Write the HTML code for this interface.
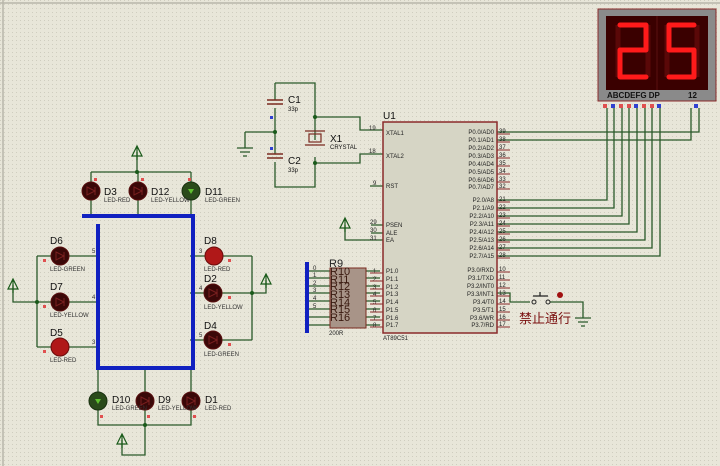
<!DOCTYPE html>
<html><head><meta charset="utf-8"><style>
html,body{margin:0;padding:0;width:720px;height:466px;overflow:hidden;background:#e6e4d6}
svg{display:block}
text{font-family:"Liberation Sans","Noto Sans CJK SC",sans-serif}
</style></head><body>
<svg width="720" height="466" viewBox="0 0 720 466" xmlns="http://www.w3.org/2000/svg">
<defs>
<pattern id="g" width="4" height="4" patternUnits="userSpaceOnUse"><rect width="4" height="4" fill="#e8e6d9"/><rect width="1" height="1" fill="#cfcdbf"/></pattern>
<g id="ledr"><circle r="9" fill="#3a0808" stroke="#5a1010"/><path d="M-4,-4 L4,0 L-4,4 Z M4,-4 V4" fill="none" stroke="#7a2020" stroke-width="1"/></g>
<g id="ledon"><circle r="9" fill="#b01818" stroke="#6a0c0c"/></g>
<g id="ledg"><circle r="9" fill="#2a4a1a" stroke="#1a3010"/><path d="M-3,-2 L3,-2 L0,3 Z" fill="#60c030"/></g>
<g id="gnd"><path d="M0,0 V-14 M-5,-4 L0,-14 L5,-4 Z" fill="none" stroke="#1a5a1a" stroke-width="1.2"/></g>
</defs>
<rect width="720" height="466" fill="url(#g)"/>
<path d="M3,0 V466 M0,3 H720" stroke="#b8b6aa" stroke-width="1.5"/>
<g stroke="#2a5a2a" stroke-width="1.3" fill="none">
<path d="M91,172 H191 M91,172 V182 M138,172 V182 M191,172 V182 M137,172 V152"/>
<path d="M91,200 V216 M138,200 V216 M191,200 V216"/>
<path d="M37,256 V347 M37,256 H51 M37,302 H51 M37,347 H51 M37,302 H13 V285"/>
<path d="M69,256 H98 M69,302 H98 M69,347 H98"/>
<path d="M252,256 V340 M223,256 H252 M222,293 H266 V280 M222,340 H252"/>
<path d="M190,256 H205 M190,293 H204 M190,340 H204"/>
<path d="M98,370 V392 M145,370 V392 M191,370 V392 M98,410 V425 H191 V410 M145,410 V455 H122 V440"/>
<path d="M275,83 H315 V140 M275,83 V100 M275,108 V154 M275,162 V187 H315 V157 M245,132 H275 M245,132 V148"/>
<path d="M315,117 H360 V130 H383 M315,163 H360 V154 H383 M370,186 H383"/>
<path d="M345,225 V240 H383 M371,225 H383 M371,233 H383"/>
<path d="M307,271 H380 M307,278 H380 M307,286 H380 M307,293 H380 M307,301 H380 M307,309 H380 M307,317 H380 M307,325 H380"/>
<path d="M497,132 H699 V108 M497,140 H691 V108"/>
<path d="M497,200 H607 V108 M497,208 H614 V108 M497,216 H622 V108 M497,224 H629 V108 M497,232 H637 V108 M497,240 H645 V108 M497,248 H652 V108 M497,256 H660 V108"/>
<path d="M497,293 H510 V302 H530 M550,302 H583 V318"/>
</g>
<g fill="#1a5a1a"><circle cx="137" cy="172" r="2"/><circle cx="37" cy="302" r="2"/><circle cx="252" cy="293" r="2"/><circle cx="145" cy="425" r="2"/><circle cx="275" cy="132" r="2"/><circle cx="315" cy="117" r="2"/><circle cx="315" cy="163" r="2"/></g>
<use href="#gnd" x="137" y="160"/><use href="#gnd" x="13" y="293"/><use href="#gnd" x="266" y="288"/><use href="#gnd" x="122" y="448"/><use href="#gnd" x="345" y="232"/>
<path d="M237,148 H253 M240,152 H250 M243,156 H247 M575,318 H591 M578,322 H588 M581,326 H585" stroke="#2a5a2a" stroke-width="1.2"/>
<path d="M82,216 H193 V370 M98,368 H193 M98,224 V370" stroke="#1020c0" stroke-width="4" fill="none"/>
<path d="M307,262 V333" stroke="#1020c0" stroke-width="4"/>
<use href="#ledr" x="91" y="191"/><use href="#ledr" x="138" y="191"/><use href="#ledg" x="191" y="191"/>
<use href="#ledr" x="60" y="256"/><use href="#ledr" x="60" y="302"/><use href="#ledon" x="60" y="347"/>
<use href="#ledon" x="214" y="256"/><use href="#ledr" x="213" y="293"/><use href="#ledr" x="213" y="340"/>
<use href="#ledg" x="98" y="401"/><use href="#ledr" x="145" y="401"/><use href="#ledr" x="191" y="401"/>
<g fill="#e05050">
<rect x="94" y="178" width="3" height="3"/><rect x="141" y="178" width="3" height="3"/><rect x="188" y="178" width="3" height="3"/>
<rect x="43" y="259" width="3" height="3"/><rect x="43" y="305" width="3" height="3"/><rect x="43" y="350" width="3" height="3"/>
<rect x="228" y="259" width="3" height="3"/><rect x="228" y="296" width="3" height="3"/><rect x="228" y="343" width="3" height="3"/>
<rect x="100" y="415" width="3" height="3"/><rect x="147" y="415" width="3" height="3"/><rect x="193" y="415" width="3" height="3"/>
</g>
<g font-size="10" fill="#111">
<text x="104" y="195">D3</text><text x="151" y="195">D12</text><text x="205" y="195">D11</text>
<text x="50" y="244">D6</text><text x="50" y="290">D7</text><text x="50" y="336">D5</text>
<text x="204" y="244">D8</text><text x="204" y="282">D2</text><text x="204" y="329">D4</text>
<text x="112" y="403">D10</text><text x="158" y="403">D9</text><text x="205" y="403">D1</text>
</g>
<g font-size="6" fill="#333">
<text x="104" y="202">LED-RED</text><text x="151" y="202">LED-YELLOW</text><text x="205" y="202">LED-GREEN</text>
<text x="50" y="271">LED-GREEN</text><text x="50" y="317">LED-YELLOW</text><text x="50" y="362">LED-RED</text>
<text x="204" y="271">LED-RED</text><text x="204" y="309">LED-YELLOW</text><text x="204" y="356">LED-GREEN</text>
<text x="112" y="410">LED-GREEN</text><text x="158" y="410">LED-YELLOW</text><text x="205" y="410">LED-RED</text>
<text x="92" y="253">5</text><text x="92" y="299">4</text><text x="92" y="344">3</text>
<text x="199" y="253">3</text><text x="199" y="290">4</text><text x="199" y="337">5</text>
</g>
<path d="M267,100 H283 M267,104 H283 M267,154 H283 M267,158 H283" stroke="#7a2a20" stroke-width="1.5"/>
<rect x="309" y="134" width="12" height="8" fill="none" stroke="#7a2a20" stroke-width="1.2"/>
<path d="M305,131 H325 M305,145 H325" stroke="#7a2a20" stroke-width="1.2"/>
<rect x="270" y="116" width="3" height="3" fill="#3040d0"/><rect x="270" y="147" width="3" height="3" fill="#3040d0"/>
<g fill="#111"><text x="288" y="103" font-size="10">C1</text><text x="288" y="164" font-size="10">C2</text><text x="330" y="142" font-size="10">X1</text>
<text x="288" y="111" font-size="6">33p</text><text x="288" y="172" font-size="6">33p</text><text x="330" y="149" font-size="6">CRYSTAL</text></g>
<rect x="330" y="268" width="36" height="60" fill="#a89488" stroke="#7a2a20"/>
<g font-size="11" fill="#3a1a10"><text x="329" y="267" fill="#222">R9</text>
<text x="330" y="275">R10</text><text x="330" y="283">R11</text><text x="330" y="290">R12</text><text x="330" y="298">R13</text><text x="330" y="306">R14</text><text x="330" y="313">R15</text><text x="330" y="321">R16</text></g>
<g font-size="6" fill="#222"><text x="313" y="270">0</text><text x="313" y="277">1</text><text x="313" y="285">2</text><text x="313" y="292">3</text><text x="313" y="300">4</text><text x="313" y="308">5</text><text x="329" y="335">200R</text></g>
<rect x="383" y="122" width="114" height="211" fill="#d6d5c5" stroke="#8a2a2a" stroke-width="1.5"/>
<text x="383" y="119" font-size="10" fill="#111">U1</text>
<text x="383" y="340" font-size="6" fill="#222">AT89C51</text>
<g font-size="6" fill="#222">
<text x="386" y="135">XTAL1</text><text x="386" y="158">XTAL2</text><text x="386" y="188">RST</text>
<text x="386" y="227">PSEN</text><text x="386" y="235">ALE</text><text x="386" y="242">EA</text>
<text x="386" y="273">P1.0</text><text x="386" y="281">P1.1</text><text x="386" y="289">P1.2</text><text x="386" y="296">P1.3</text><text x="386" y="304">P1.4</text><text x="386" y="312">P1.5</text><text x="386" y="320">P1.6</text><text x="386" y="327">P1.7</text>
<g text-anchor="end">
<text x="494" y="134">P0.0/AD0</text><text x="494" y="142">P0.1/AD1</text><text x="494" y="150">P0.2/AD2</text><text x="494" y="158">P0.3/AD3</text><text x="494" y="166">P0.4/AD4</text><text x="494" y="174">P0.5/AD5</text><text x="494" y="182">P0.6/AD6</text><text x="494" y="189">P0.7/AD7</text>
<text x="494" y="202">P2.0/A8</text><text x="494" y="210">P2.1/A9</text><text x="494" y="218">P2.2/A10</text><text x="494" y="226">P2.3/A11</text><text x="494" y="234">P2.4/A12</text><text x="494" y="242">P2.5/A13</text><text x="494" y="250">P2.6/A14</text><text x="494" y="258">P2.7/A15</text>
<text x="494" y="272">P3.0/RXD</text><text x="494" y="280">P3.1/TXD</text><text x="494" y="288">P3.2/INT0</text><text x="494" y="296">P3.3/INT1</text><text x="494" y="304">P3.4/T0</text><text x="494" y="312">P3.5/T1</text><text x="494" y="320">P3.6/WR</text><text x="494" y="327">P3.7/RD</text>
</g>
<text x="499" y="133">39</text><text x="499" y="141">38</text><text x="499" y="149">37</text><text x="499" y="157">36</text><text x="499" y="165">35</text><text x="499" y="173">34</text><text x="499" y="181">33</text><text x="499" y="188">32</text>
<text x="499" y="201">21</text><text x="499" y="209">22</text><text x="499" y="217">23</text><text x="499" y="225">24</text><text x="499" y="233">25</text><text x="499" y="241">26</text><text x="499" y="249">27</text><text x="499" y="257">28</text>
<text x="499" y="271">10</text><text x="499" y="279">11</text><text x="499" y="287">12</text><text x="499" y="295">13</text><text x="499" y="303">14</text><text x="499" y="311">15</text><text x="499" y="319">16</text><text x="499" y="326">17</text>
<text x="369" y="130">19</text><text x="369" y="153">18</text><text x="373" y="185">9</text><text x="370" y="224">29</text><text x="370" y="232">30</text><text x="370" y="240">31</text>
<text x="373" y="273">1</text><text x="373" y="281">2</text><text x="373" y="289">3</text><text x="373" y="296">4</text><text x="373" y="304">5</text><text x="373" y="312">6</text><text x="373" y="320">7</text><text x="373" y="327">8</text>
</g>
<g stroke="#8a2a2a" stroke-width="1"><path d="M497,134 H510 M497,142 H510 M497,150 H510 M497,158 H510 M497,166 H510 M497,174 H510 M497,182 H510 M497,189 H510 M497,202 H510 M497,210 H510 M497,218 H510 M497,226 H510 M497,234 H510 M497,242 H510 M497,250 H510 M497,258 H510 M497,272 H510 M497,280 H510 M497,288 H510 M497,296 H510 M497,304 H510 M497,312 H510 M497,320 H510 M497,327 H510 M370,273 H383 M370,281 H383 M370,289 H383 M370,296 H383 M370,304 H383 M370,312 H383 M370,320 H383 M370,327 H383"/></g>
<path d="M533,296 H548 M540,292 V296" stroke="#222" stroke-width="1.2"/>
<circle cx="534" cy="302" r="2" fill="none" stroke="#222"/><circle cx="548" cy="302" r="2" fill="none" stroke="#222"/><circle cx="560" cy="295" r="3" fill="#a01010"/>
<text x="519" y="323" font-size="13" fill="#7a1010" font-family="Noto Sans CJK SC, sans-serif">禁止通行</text>
<rect x="598" y="9" width="118" height="92" fill="#8a8a8a" stroke="#8a2a2a"/>
<rect x="606" y="16" width="102" height="74" fill="#3a0000"/>
<path d="M657,16 V90" stroke="#5a1010"/>
<g fill="none" stroke="#5a0808" stroke-width="5">
<path d="M618,25 V77 M648,25 V77 M667,25 V77 M697,25 V77"/>
</g>
<g fill="none" stroke="#ff1a1a" stroke-width="5" stroke-linecap="round" stroke-linejoin="round">
<path d="M620,25 H646 V50 H620 V77 H646"/>
<path d="M694,25 H669 V50 H694 V77 H669"/>
</g>
<text x="607" y="98" font-size="8" font-weight="bold" fill="#111">ABCDEFG  DP</text>
<text x="688" y="98" font-size="8" font-weight="bold" fill="#111">12</text>
<g fill="#e05050"><rect x="603" y="104" width="4" height="4"/><rect x="619" y="104" width="4" height="4"/><rect x="627" y="104" width="4" height="4"/><rect x="642" y="104" width="4" height="4"/><rect x="650" y="104" width="4" height="4"/></g>
<g fill="#3040d0"><rect x="611" y="104" width="4" height="4"/><rect x="634" y="104" width="4" height="4"/><rect x="657" y="104" width="4" height="4"/><rect x="694" y="104" width="4" height="4"/></g>
</svg>
</body></html>
